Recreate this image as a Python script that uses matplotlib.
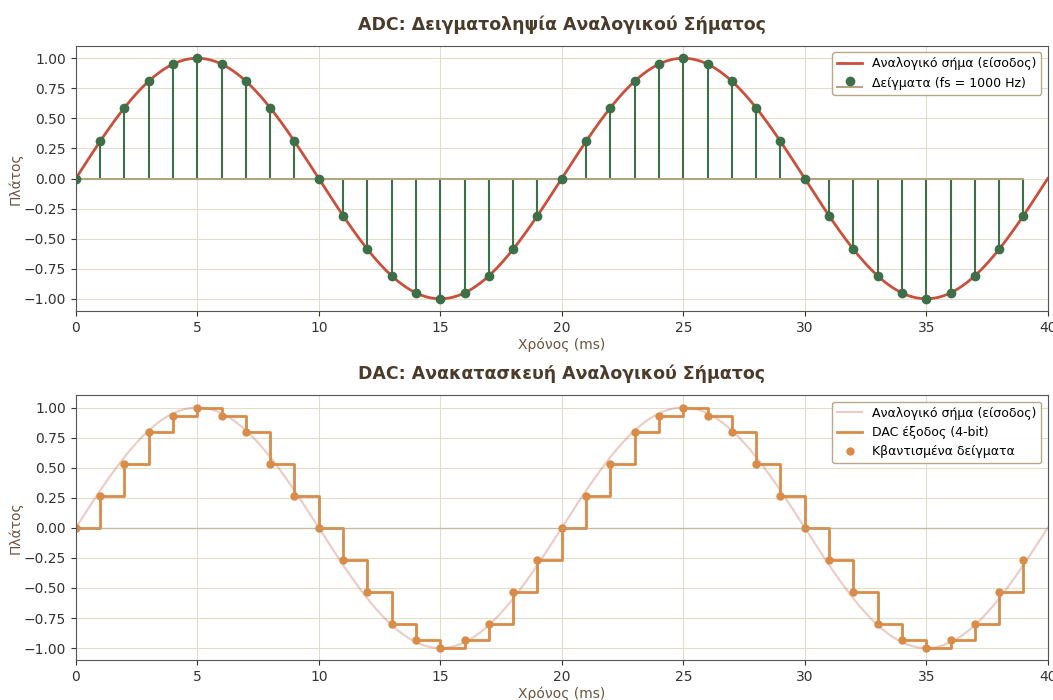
import numpy as np
import matplotlib.pyplot as plt

# signal parameters
f_signal = 50      # Hz
fs = 1000          # Hz
duration_ms = 40

t_samples = list(range(40))
samples = [0.0, 0.309, 0.588, 0.809, 0.951, 1.0, 0.951, 0.809, 0.588, 0.309,
           0.0, -0.309, -0.588, -0.809, -0.951, -1.0, -0.951, -0.809, -0.588, -0.309,
           0.0, 0.309, 0.588, 0.809, 0.951, 1.0, 0.951, 0.809, 0.588, 0.309,
           0.0, -0.309, -0.588, -0.809, -0.951, -1.0, -0.951, -0.809, -0.588, -0.309]

# 4-bit quantized levels
quantized = [0.0, 0.267, 0.533, 0.8, 0.933, 1.0, 0.933, 0.8, 0.533, 0.267,
             0.0, -0.267, -0.533, -0.8, -0.933, -1.0, -0.933, -0.8, -0.533, -0.267,
             0.0, 0.267, 0.533, 0.8, 0.933, 1.0, 0.933, 0.8, 0.533, 0.267,
             0.0, -0.267, -0.533, -0.8, -0.933, -1.0, -0.933, -0.8, -0.533, -0.267]

# analog input: continuous sine
t_analog = np.linspace(0, duration_ms, 2000)
analog = np.sin(2 * np.pi * f_signal * t_analog / 1000)

red = "#c8503c"
green = "#3d7048"
tan = "#b3a582"
orange = "#d98b48"
title_col = "#4a3b2a"
label_col = "#6b5440"
grid_col = "#e3ddcc"

fig, (ax1, ax2) = plt.subplots(2, 1, figsize=(10.53, 7.0), dpi=100)
fig.subplots_adjust(left=0.072, right=0.995, top=0.934, bottom=0.057, hspace=0.32)

# ADC
ax1.plot(t_analog, analog, color=red, lw=2, label="Αναλογικό σήμα (είσοδος)", zorder=3)
ml, sl, bl = ax1.stem(t_samples, samples, label=f"Δείγματα (fs = {fs} Hz)")
plt.setp(ml, color=green, markersize=6, zorder=4)
plt.setp(sl, color=green, linewidth=1.5)
plt.setp(bl, color=tan, linewidth=1.5)
ax1.set_title("ADC: Δειγματοληψία Αναλογικού Σήματος", fontsize=12.5, fontweight="bold",
              color=title_col, pad=12)
ax1.legend(loc="upper right", fontsize=9, edgecolor=tan, framealpha=0.95)

# DAC
ax2.plot(t_analog, analog, color=red, lw=1.5, alpha=0.3, label="Αναλογικό σήμα (είσοδος)")
ax2.step(t_samples, quantized, where="post", color=orange, lw=2, label="DAC έξοδος (4-bit)")
ax2.plot(t_samples, quantized, "o", color=orange, markersize=5, label="Κβαντισμένα δείγματα")
ax2.axhline(0, color=tan, lw=1, alpha=0.6)
ax2.set_title("DAC: Ανακατασκευή Αναλογικού Σήματος", fontsize=12.5, fontweight="bold",
              color=title_col, pad=12)
ax2.legend(loc="upper right", fontsize=9, edgecolor=tan, framealpha=0.95)

for ax in (ax1, ax2):
    ax.set_xlim(0, duration_ms)
    ax.set_ylim(-1.1, 1.1)
    ax.set_xlabel("Χρόνος (ms)", color=label_col, fontsize=10, labelpad=2)
    ax.set_ylabel("Πλάτος", color=label_col, fontsize=10, labelpad=1)
    ax.grid(True, color=grid_col, lw=0.8)
    ax.set_axisbelow(True)
    for s in ax.spines.values():
        s.set_color("#555555")
    ax.tick_params(colors="#333333", labelsize=10)

plt.savefig("out.png", dpi=100)
